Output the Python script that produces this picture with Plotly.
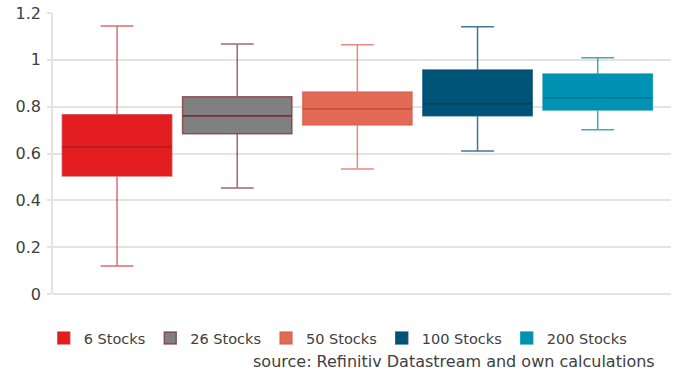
import plotly.graph_objects as go

categories = ["6 Stocks", "26 Stocks", "50 Stocks", "100 Stocks", "200 Stocks"]
lower = [0.12, 0.453, 0.534, 0.611, 0.701]
q1 = [0.504, 0.684, 0.722, 0.761, 0.786]
median = [0.628, 0.761, 0.790, 0.812, 0.838]
q3 = [0.765, 0.842, 0.863, 0.957, 0.940]
upper = [1.145, 1.068, 1.064, 1.141, 1.009]

fills = ["#E41E20", "#808080", "#E36A55", "#005478", "#0092B2"]
whisker_colors = ["rgba(200,30,40,0.65)", "rgba(123,42,50,0.7)", "rgba(215,90,75,0.7)",
                  "rgba(0,75,110,0.75)", "rgba(0,140,170,0.75)"]
median_colors = ["#B31B22", "#7B2A32", "#C2503F", "#00425F", "#00788F"]

fig = go.Figure()
for i, c in enumerate(categories):
    fig.add_trace(go.Box(
        x=[i], name=c,
        q1=[q1[i]], median=[median[i]], q3=[q3[i]],
        lowerfence=[lower[i]], upperfence=[upper[i]],
        fillcolor=fills[i],
        line=dict(color=whisker_colors[i], width=1.5),
        width=0.91, whiskerwidth=0.3,
        boxpoints=False, hoverinfo="skip",
    ))
for i, c in enumerate(categories):
    fig.add_trace(go.Box(
        x=[i], name=c, showlegend=False,
        q1=[median[i]], median=[median[i]], q3=[median[i]],
        lowerfence=[median[i]], upperfence=[median[i]],
        fillcolor="rgba(0,0,0,0)",
        line=dict(color=median_colors[i], width=1.5),
        width=0.91, whiskerwidth=0,
        boxpoints=False, hoverinfo="skip",
    ))

fig.update_layout(
    width=678, height=374,
    margin=dict(l=53, r=7, t=13, b=80, autoexpand=False),
    paper_bgcolor="white", plot_bgcolor="white",
    font=dict(family="DejaVu Sans", size=16, color="#404040"),
    boxmode="overlay",
    showlegend=True,
    legend=dict(orientation="h", x=-0.015, xanchor="left", y=-0.1, yanchor="top",
                font=dict(size=14.5, color="#404040"), itemwidth=30,
                tracegroupgap=0),
    xaxis=dict(range=[-0.533, 4.61], showticklabels=False, showgrid=False,
               zeroline=False, showline=False, ticks=""),
    yaxis=dict(range=[0, 1.2], tickvals=[0, 0.2, 0.4, 0.6, 0.8, 1, 1.2],
               ticktext=["0", "0.2", "0.4", "0.6", "0.8", "1", "1.2"],
               showgrid=True, gridcolor="#E3E3E3", gridwidth=1.5,
               zeroline=True, zerolinecolor="#E3E3E3", zerolinewidth=1.5,
               showline=True, linecolor="#E3E3E3", linewidth=1.5,
               ticks="outside", ticklen=4, tickcolor="#E3E3E3", tickwidth=1.5,
               ticklabelstandoff=3, fixedrange=True),
    annotations=[dict(text="source: Refinitiv Datastream and own calculations",
                      xref="paper", yref="paper", x=0.978, xanchor="right",
                      y=-0.24, yanchor="middle", showarrow=False,
                      font=dict(size=16, color="#404040"))],
)

fig.write_html("out.html")
